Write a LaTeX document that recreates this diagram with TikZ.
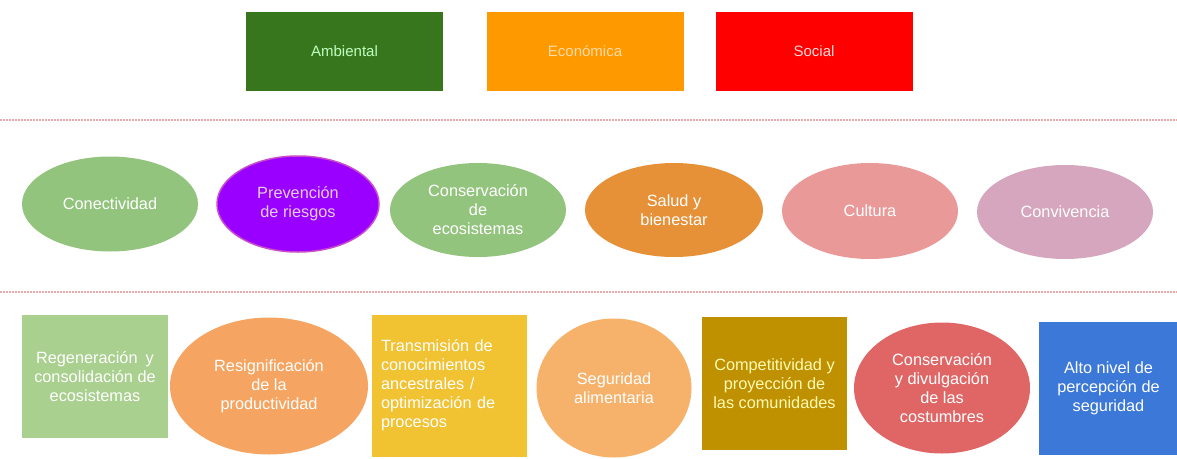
\documentclass[tikz,border=0pt]{standalone}
\usepackage{fontspec}
\setmainfont{Liberation Sans}
\usetikzlibrary{positioning,shapes.geometric}
\definecolor{ambcol}{HTML}{38761D}
\definecolor{ecocol}{HTML}{FF9900}
\definecolor{soccol}{HTML}{FF0000}
\definecolor{greencol}{HTML}{93C47D}
\definecolor{violetcol}{HTML}{9900FF}
\definecolor{saludcol}{HTML}{E69138}
\definecolor{culturacol}{HTML}{EA9999}
\definecolor{convcol}{HTML}{D5A6BD}
\definecolor{regencol}{HTML}{A9D08E}
\definecolor{resigcol}{HTML}{F5A561}
\definecolor{transcol}{HTML}{F1C232}
\definecolor{segcol}{HTML}{F6B26B}
\definecolor{compcol}{HTML}{BF9000}
\definecolor{costcol}{HTML}{E06666}
\definecolor{altocol}{HTML}{3C78D8}
\definecolor{sepcol}{HTML}{EBAAAA}
\tikzset{box/.style = {rectangle,inner sep=0pt,align=center,text=white,
                       font=\fontsize{16.3}{19}\selectfont},
         oval/.style = {ellipse,inner sep=0pt,align=center,text=white,
                        font=\fontsize{16.3}{19}\selectfont},
         head/.style = {box,minimum width=197pt,minimum height=79pt,
                        font=\fontsize{15}{18}\selectfont},
         sepline/.style = {draw=sepcol,line width=2pt,dash pattern=on 1.5pt off 1.5pt}}

\begin{document}
\begin{tikzpicture}[x=1pt,y=-1pt]
    \useasboundingbox (0,0) rectangle (1177,458);

    % dimensiones
    \node [head,fill=ambcol,text=green!25] (amb) at (344.5,51.5) {Ambiental};
    \node [head,fill=ecocol,text=ecocol!35] (eco) at (585,51.5) {Económica};
    \node [head,fill=soccol,text=red!15] (soc) at (814,51.5) {Social};

    \draw [sepline] (0,120) -- (1177,120);

    % ejes
    \node [oval,fill=greencol,minimum width=176pt,minimum height=95pt] (con) at (110,204) {Conectividad};
    \node [oval,fill=violetcol,draw=violet!60!magenta!70,line width=1.5pt,text=violet!20,
           minimum width=162pt,minimum height=96pt] (pre) at (298,204) {Prevención\\de riesgos};
    \node [oval,fill=greencol,minimum width=176pt,minimum height=94pt] (ces) at (478,210) {Conservación\\de\\ecosistemas};
    \node [oval,fill=saludcol,minimum width=178pt,minimum height=94pt] (sal) at (674,210) {Salud y\\bienestar};
    \node [oval,fill=culturacol,minimum width=176pt,minimum height=96pt] (cul) at (870,211) {Cultura};
    \node [oval,fill=convcol,minimum width=176pt,minimum height=94pt] (cnv) at (1065,212) {Convivencia};

    \draw [sepline] (0,292) -- (1177,292);

    % resultados
    \node [box,fill=regencol,minimum width=146pt,minimum height=123pt] (reg) at (95,376.5) {Regeneración\enspace y\\consolidación de\\ecosistemas};
    \node [oval,fill=resigcol,minimum width=198pt,minimum height=137pt] (res) at (269,386) {Resignificación\\de la\\productividad};
    \node [box,fill=transcol,align=left,text width=155pt,
           minimum height=142pt] (tra) at (449.5,386) {\hspace*{9pt}\begin{tabular}{@{}l@{}}Transmisión de\\conocimientos\\ancestrales /\\optimización de\\procesos\end{tabular}};
    \node [oval,fill=segcol,minimum width=155pt,minimum height=139pt] (seg) at (614,388) {Seguridad\\alimentaria};
    \node [box,fill=compcol,text=yellow!30,minimum width=145pt,minimum height=133pt] (com) at (774.5,383.5) {Competitividad y\\proyección de\\las comunidades};
    \node [oval,fill=costcol,minimum width=176pt,minimum height=131pt] (cos) at (942,388) {Conservación\\y divulgación\\de las\\costumbres};
    \node [box,fill=altocol,minimum width=139pt,minimum height=133pt] (alt) at (1108.5,388.5) {Alto nivel de\\percepción de\\seguridad};
\end{tikzpicture}
\end{document}
